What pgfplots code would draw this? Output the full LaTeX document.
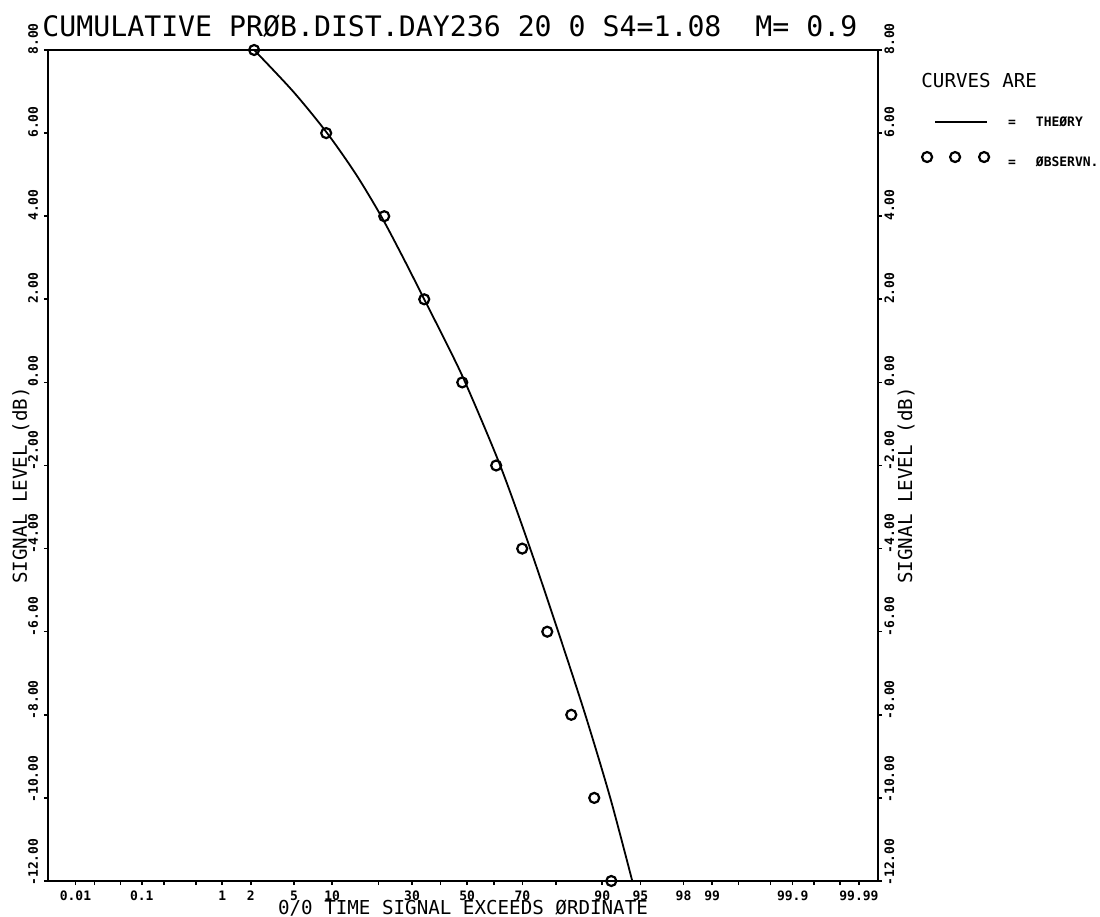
\documentclass[border=0pt]{standalone}
\usepackage{fontspec}
\usepackage{pgfplots}
\pgfplotsset{compat=1.18}
\newfontfamily\plotfont{DejaVu Sans Mono}
\newcommand\tickf{\plotfont\bfseries\fontsize{6.5}{7}\selectfont}
\newcommand\labf{\plotfont\fontsize{9.6}{10}\selectfont}
\newcommand\titf{\plotfont\fontsize{14.1}{15}\selectfont}
% observed points: signal level (dB) vs probit (z) of percentage of time exceeded
\pgfplotstableread{
z       y
-2.023  8
-1.339  6
-0.788  4
-0.408  2
-0.047  0
0.275  -2
0.522  -4
0.760  -6
0.988  -8
1.206  -10
1.368  -12
}\obsdata
\pgfplotstableread{
z       y
-2.023  8
-1.652  7
-1.330  6
-1.054  5
-0.817  4
-0.608  3
-0.408  2
-0.209  1
-0.019  0
0.313  -2
0.598  -4
0.864  -6
1.121  -8
1.358  -10
1.567  -12
}\theorydata
\begin{document}
\begin{tikzpicture}[x=1pt,y=1pt]
\path[use as bounding box] (-24,-18) rectangle (526,440.5);
\begin{axis}[
  at={(0,0)}, anchor=south west,
  scale only axis, width=415pt, height=415.5pt,
  xmin=-3.98, xmax=3.90, ymin=-12, ymax=8,
  clip=false,
  axis line style={line width=0.8pt},
  xtick={-3.719,-3.540,-3.291,-3.090,-2.878,-2.576,-2.326,-2.054,-1.645,-1.282,-0.842,-0.524,-0.253,0,0.253,0.524,0.842,1.282,1.645,2.054,2.326,2.576,2.878,3.090,3.291,3.540,3.719},
  xticklabels={0.01,,,0.1,,,1,2,5,10,,30,,50,,70,,90,95,98,99,,,99.9,,,99.99},
  ytick={-12,-10,-8,-6,-4,-2,0,2,4,6,8},
  yticklabels={-12.00,-10.00,-8.00,-6.00,-4.00,-2.00,0.00,2.00,4.00,6.00,8.00},
  xtick pos=lower, ytick pos=left,
  tick align=outside,
  major tick length=2pt,
  tick style={line width=0.8pt, black},
  xticklabel style={font=\tickf, anchor=north, inner sep=0pt, yshift=-2.6pt},
  yticklabel style={font=\tickf, xshift=-3pt, yshift=-2.5pt, rotate=90, anchor=base west, inner sep=0pt},
  xlabel={0/0 TIME SIGNAL EXCEEDS ØRDINATE},
  xlabel style={font=\labf, at={(rel axis cs:0.5,0)}, anchor=base, yshift=-16.8pt, inner sep=0pt},
  ylabel={SIGNAL LEVEL (dB)},
  ylabel style={font=\labf, at={(rel axis cs:0,0.5)}, anchor=base, yshift=10.5pt, xshift=-10pt, inner sep=0pt},
  legend style={at={(1.0518,0.9254)}, anchor=north west, draw=none, fill=none,
    inner sep=0pt, outer sep=0pt, row sep=12pt, column sep=7.5pt,
    nodes={inner sep=0pt, text depth=0pt}, font=\tickf},
  legend cell align=left,
]
\addplot[black, line width=0.9pt, smooth, tension=0.5,
  legend image code/.code={\path[draw=none,fill=none] (-3pt,-1pt) rectangle (33pt,5pt); \draw[line width=0.8pt] (4pt,0) -- (30pt,0);}]
  table[x=z,y=y] {\theorydata};
\addlegendentry{=\hspace{10pt}THEØRY}
\addplot[only marks, mark=o, mark size=2.5pt, mark options={line width=1.1pt, black},
  legend image code/.code={\path[draw=none,fill=none] (-3pt,-1pt) rectangle (33pt,5pt);
    \draw[line width=1.1pt] (0pt,2.4pt) circle (2.5pt) (14pt,2.4pt) circle (2.5pt) (28.5pt,2.4pt) circle (2.5pt);}]
  table[x=z,y=y] {\obsdata};
\addlegendentry{=\hspace{10pt}ØBSERVN.}
\node[font=\labf, anchor=base west, inner sep=0pt] at (rel axis cs:1.0518,0.955) {CURVES ARE};
\node[font=\titf, anchor=base west, inner sep=0pt] at (rel axis cs:-0.0072,1.0157) {CUMULATIVE PRØB.DIST.DAY236 20 0 S4=1.08 \ M= 0.9};
\end{axis}
\begin{axis}[
  at={(0,0)}, anchor=south west,
  scale only axis, width=415pt, height=415.5pt,
  xmin=-3.98, xmax=3.90, ymin=-12, ymax=8,
  hide x axis,
  axis line style={line width=0.8pt},
  ytick={-12,-10,-8,-6,-4,-2,0,2,4,6,8},
  yticklabels={-12.00,-10.00,-8.00,-6.00,-4.00,-2.00,0.00,2.00,4.00,6.00,8.00},
  ytick pos=right, yticklabel pos=right,
  tick align=outside, major tick length=2pt,
  tick style={line width=0.8pt, black},
  yticklabel style={font=\tickf, xshift=1pt, yshift=-2.5pt, rotate=90, anchor=north west, inner sep=0pt},
  ylabel={SIGNAL LEVEL (dB)},
  ylabel style={font=\labf, at={(rel axis cs:1,0.5)}, anchor=base, yshift=-17pt, xshift=-10pt, inner sep=0pt},
]
\end{axis}
\end{tikzpicture}
\end{document}
